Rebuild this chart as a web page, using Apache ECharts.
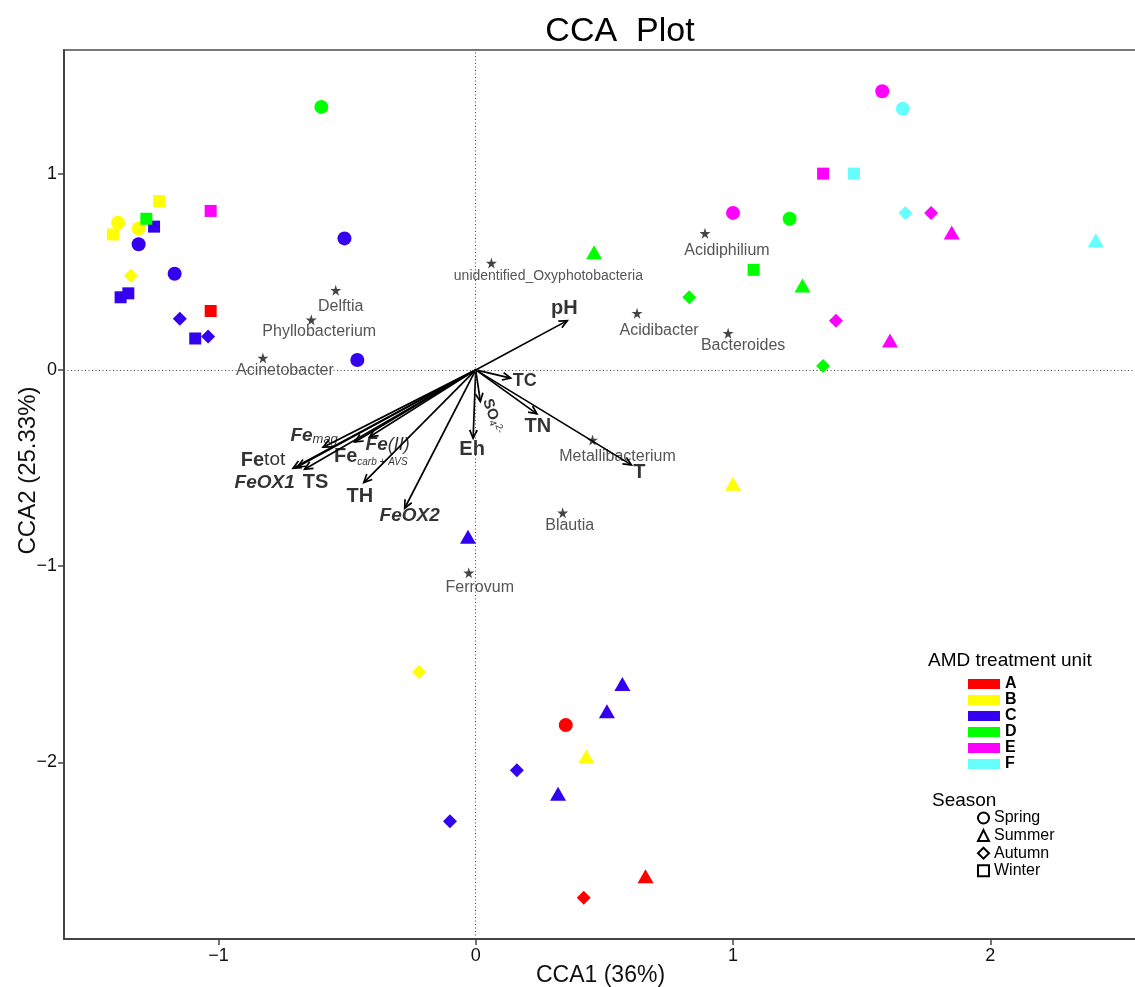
<!DOCTYPE html>
<html><head><meta charset="utf-8">
<script src="https://cdn.jsdelivr.net/npm/echarts@6/dist/echarts.min.js"></script>
<style>html,body{margin:0;padding:0;background:#fff}#c{width:1135px;height:987px}</style>
</head><body><div id="c"></div>
<script>
// ---------- data ----------
const units = ['A','B','C','D','E','F'];
const seasons = ['Spring','Summer','Autumn','Winter'];
const xTicks = [-1, 0, 1, 2];
const yTicks = [-2, -1, 0, 1];

// sample scores [CCA1, CCA2, season]
const unitA = [[-1.03,0.30,'Winter'],[0.35,-1.81,'Spring'],[0.66,-2.58,'Summer'],[0.42,-2.69,'Autumn']];
const unitB = [[-1.23,0.86,'Winter'],[-1.39,0.75,'Spring'],[-1.31,0.72,'Spring'],[-1.41,0.69,'Winter'],
               [-1.34,0.48,'Autumn'],[1.00,-0.58,'Summer'],[-0.22,-1.54,'Autumn'],[0.43,-1.97,'Summer']];
const unitC = [[-1.25,0.73,'Winter'],[-1.31,0.64,'Spring'],[-0.51,0.67,'Spring'],[-1.17,0.49,'Spring'],
               [-1.35,0.39,'Winter'],[-1.38,0.37,'Winter'],[-1.15,0.26,'Autumn'],[-1.09,0.16,'Winter'],
               [-1.04,0.17,'Autumn'],[-0.46,0.05,'Spring'],[-0.03,-0.85,'Summer'],[0.57,-1.60,'Summer'],
               [0.51,-1.74,'Summer'],[0.16,-2.04,'Autumn'],[0.32,-2.16,'Summer'],[-0.10,-2.30,'Autumn']];
const unitD = [[-0.60,1.34,'Spring'],[-1.28,0.77,'Winter'],[0.46,0.60,'Summer'],[1.22,0.77,'Spring'],
               [1.08,0.51,'Winter'],[1.27,0.43,'Summer'],[0.83,0.37,'Autumn'],[1.35,0.02,'Autumn']];
const unitE = [[-1.03,0.81,'Winter'],[1.58,1.42,'Spring'],[1.35,1.00,'Winter'],[1.00,0.80,'Spring'],
               [1.77,0.80,'Autumn'],[1.85,0.70,'Summer'],[1.40,0.25,'Autumn'],[1.61,0.15,'Summer']];
const unitF = [[1.66,1.33,'Spring'],[1.47,1.00,'Winter'],[1.67,0.80,'Autumn'],[2.41,0.66,'Summer']];

// genus scores [name, CCA1, CCA2]
const genera = [
  ['Delftia',-0.544,0.406],['Phyllobacterium',-0.639,0.255],['Acinetobacter',-0.827,0.061],
  ['unidentified_Oxyphotobacteria',0.061,0.544],['Acidiphilium',0.891,0.696],['Acidibacter',0.627,0.289],
  ['Bacteroides',0.981,0.187],['Metallibacterium',0.454,-0.357],['Blautia',0.338,-0.728],['Ferrovum',-0.027,-1.034]
];

// environmental vectors [name, CCA1, CCA2]
const envVars = [
  ['pH',0.356,0.251],['TC',0.136,-0.042],['SO4',0.018,-0.161],['TN',0.238,-0.224],['Eh',-0.010,-0.348],
  ['T',0.605,-0.484],['Femag',-0.593,-0.394],['FeII',-0.412,-0.341],['Fecarb',-0.470,-0.367],
  ['Fetot',-0.710,-0.501],['FeOX1',-0.692,-0.494],['TS',-0.665,-0.506],['TH',-0.435,-0.574],['FeOX2',-0.276,-0.705]
];

// ---------- styles ----------
const FONT = "'Liberation Sans', Arial, sans-serif";
const unitColors = {A:'#FF0000',B:'#FFFF00',C:'#3300F0',D:'#00FF00',E:'#FF00FF',F:'#66FFFF'};
const seasonSymbol = {Spring:'circle',Summer:'triangle',Autumn:'diamond',Winter:'rect'};
const seasonSize = {Spring:14,Summer:[16,14],Autumn:14,Winter:12};
const starPath = 'path://M50,0 L61,35 L98,35 L68,57 L79,91 L50,70 L21,91 L32,57 L2,35 L39,35 Z';
const genusLabelOffset = {
  'Delftia':[5,16],'Phyllobacterium':[8,12],'Acinetobacter':[22,13],'unidentified_Oxyphotobacteria':[57,13],
  'Acidiphilium':[22,17],'Acidibacter':[22,17],'Bacteroides':[15,12],'Metallibacterium':[25,17],
  'Blautia':[7,13],'Ferrovum':[11,15]
};
const envLabel = {
  pH:{t:'{b|pH}',o:[-3,-12]}, TC:{t:'{bs|TC}',o:[14,3]}, SO4:{t:'{so|SO}{sub|4}{sup|2-}',o:[18,-7],r:-72},
  TN:{t:'{b|TN}',o:[1,13]}, Eh:{t:'{b|Eh}',o:[-1,11]}, T:{t:'{b|T}',o:[8,8]},
  Femag:{t:'{bi|Fe}{im|mag}',o:[-9,-11]}, FeII:{t:'{bi|Fe}{i|(II)}',o:[18,8]},
  Fecarb:{t:'{b|Fe}{sb|carb + AVS}',o:[16,15]}, Fetot:{t:'{b|Fe}{n|tot}',o:[-30,-8]},
  FeOX1:{t:'{bi|FeOX1}',o:[-33,16]}, TS:{t:'{b|TS}',o:[11,13]}, TH:{t:'{b|TH}',o:[-4,14]},
  FeOX2:{t:'{bi|FeOX2}',o:[5,8]}
};
const envRich = {
  b:{fontSize:20,fontWeight:'bold',color:'#000',fontFamily:FONT},
  bs:{fontSize:18,fontWeight:'bold',color:'#000',fontFamily:FONT},
  bi:{fontSize:19,fontWeight:'bold',fontStyle:'italic',color:'#000',fontFamily:FONT},
  i:{fontSize:18,fontStyle:'italic',color:'#000',fontFamily:FONT},
  im:{fontSize:13,fontStyle:'italic',color:'#000',fontFamily:FONT,verticalAlign:'bottom'},
  n:{fontSize:19,color:'#000',fontFamily:FONT},
  sb:{fontSize:10,fontStyle:'italic',color:'#000',fontFamily:FONT,verticalAlign:'bottom'},
  so:{fontSize:15,fontWeight:'bold',color:'#000',fontFamily:FONT},
  sub:{fontSize:10,color:'#000',fontFamily:FONT,verticalAlign:'bottom'},
  sup:{fontSize:10,color:'#000',fontFamily:FONT,verticalAlign:'top'}
};

const unitData = {A:unitA,B:unitB,C:unitC,D:unitD,E:unitE,F:unitF};

const series = [];
// zero reference lines + genus stars
series.push({
  type:'scatter', name:'genera', z:2, symbol:starPath, symbolSize:11,
  itemStyle:{color:'#444', opacity:1},
  data: genera.map(g => ({name:g[0], value:[g[1],g[2]],
    label:{show:true, position:'inside', offset:genusLabelOffset[g[0]], formatter:g[0],
      fontSize: g[0]==='unidentified_Oxyphotobacteria'?14:16, color:'#555', fontFamily:FONT}})),
  markLine:{silent:true, symbol:['none','none'], label:{show:false},
    lineStyle:{type:[1,2.5], color:'#444', width:1, opacity:1}, data:[{xAxis:0},{yAxis:0}]}
});
// arrows
series.push({
  type:'custom', name:'env', z:3, coordinateSystem:'cartesian2d',
  data: envVars.map(e => [e[1], e[2]]),
  encode:{x:0,y:1},
  renderItem:function(params, api){
    const o = api.coord([0,0]);
    const t = api.coord([api.value(0), api.value(1)]);
    const ang = Math.atan2(t[1]-o[1], t[0]-o[0]);
    const L = 9, a = 25*Math.PI/180;
    const p1 = [t[0]-L*Math.cos(ang-a), t[1]-L*Math.sin(ang-a)];
    const p2 = [t[0]-L*Math.cos(ang+a), t[1]-L*Math.sin(ang+a)];
    const st = {stroke:'#000', lineWidth:1.7, fill:null};
    return {type:'group', children:[
      {type:'line', shape:{x1:o[0],y1:o[1],x2:t[0],y2:t[1]}, style:st},
      {type:'polyline', shape:{points:[p1,t,p2]}, style:st}
    ]};
  }
});
// env labels
series.push({
  type:'scatter', name:'envLabels', z:4, symbolSize:1, itemStyle:{color:'transparent'},
  data: envVars.map(e => {
    const L = envLabel[e[0]];
    return {name:e[0], value:[e[1],e[2]],
      label:{show:true, position:'inside', offset:L.o, rotate:L.r||0, formatter:L.t, rich:envRich}};
  })
});
// samples
units.forEach(u => {
  series.push({
    type:'scatter', name:u, z:5,
    itemStyle:{color:unitColors[u], opacity:1},
    symbol:v => seasonSymbol[v[2]],
    symbolSize:v => seasonSize[v[2]],
    data: unitData[u]
  });
});
// season legend placeholders
seasons.forEach(s => {
  series.push({type:'scatter', name:s, symbol:seasonSymbol[s], data:[],
    itemStyle:{color:'#fff', borderColor:'#000', borderWidth:1.1, opacity:1}});
});

const fmt = v => (v < 0 ? '\u2212' + Math.abs(v) : String(v));

const option = {
  animation:false,
  backgroundColor:'#fff',
  title:{text:'CCA  Plot', left:615, top:10, textAlign:'center',
    textStyle:{fontSize:34, fontWeight:'normal', color:'#000', fontFamily:FONT}},
  grid:{left:64, right:-2, top:50, bottom:48, show:true, borderColor:'#777', borderWidth:2,
    containLabel:false, outerBoundsMode:'none'},
  xAxis:{type:'value', min:-1.6, max:2.57,
    name:'CCA1 (36%)', nameLocation:'middle', nameGap:25, nameMoveOverlap:false,
    nameTextStyle:{fontSize:23, color:'#111', fontFamily:FONT},
    axisLine:{show:true, onZero:false, lineStyle:{color:'#444', width:2}},
    axisTick:{show:true, length:6, customValues:xTicks, lineStyle:{color:'#444', width:1.5}},
    axisLabel:{customValues:xTicks, formatter:fmt, fontSize:18, color:'#111', margin:8, fontFamily:FONT},
    splitLine:{show:false}},
  yAxis:{type:'value', min:-2.9, max:1.63,
    name:'CCA2 (25.33%)', nameLocation:'middle', nameGap:24, nameMoveOverlap:false,
    nameTextStyle:{fontSize:24, color:'#111', fontFamily:FONT, padding:[0,0,0,48]},
    axisLine:{show:true, onZero:false, lineStyle:{color:'#444', width:2}},
    axisTick:{show:true, length:6, customValues:yTicks, lineStyle:{color:'#444', width:1.5}},
    axisLabel:{customValues:yTicks, formatter:fmt, fontSize:18, color:'#111', margin:7, fontFamily:FONT},
    splitLine:{show:false}},
  legend:[
    {data:units, orient:'vertical', left:968, top:676, padding:0, itemWidth:32, itemHeight:10, itemGap:0,
     icon:'rect', selectedMode:false,
     textStyle:{fontSize:16, fontWeight:'bold', color:'#000', fontFamily:FONT}},
    {data:seasons, orient:'vertical', left:977, top:810, padding:0, itemWidth:11, itemHeight:11, itemGap:1.6,
     selectedMode:false,
     textStyle:{fontSize:16, color:'#000', fontFamily:FONT}}
  ],
  graphic:[
    {type:'text', x:928, y:661, style:{text:'AMD treatment unit', fontSize:19, fontFamily:FONT, fill:'#000', align:'left', verticalAlign:'middle'}},
    {type:'text', x:932, y:801, style:{text:'Season', fontSize:19, fontFamily:FONT, fill:'#000', align:'left', verticalAlign:'middle'}}
  ],
  series:series
};
const chart = echarts.init(document.getElementById('c'));
chart.setOption(option);
</script></body></html>
